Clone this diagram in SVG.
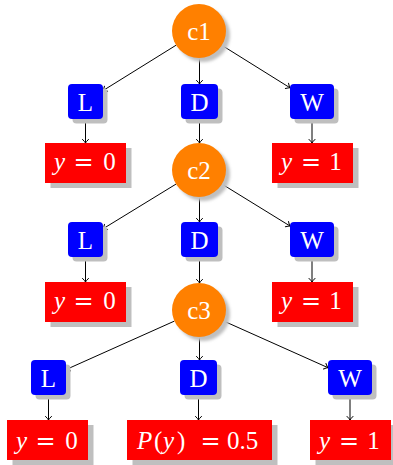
<svg xmlns="http://www.w3.org/2000/svg" width="393" height="465" viewBox="0 0 393 465">
<style>
.sh{fill:#bfbfbf}
.circ{fill:#ff8000}
.blue{fill:#0000ff}
.red{fill:#ff0000}
text{font-family:"Liberation Serif","Times New Roman",serif;font-size:25px;fill:#ffffff}
.c{text-anchor:middle}
.i{font-style:italic}
.eq{font-family:"DejaVu Serif",serif;font-size:24px;text-anchor:middle}
.e{stroke:#000;stroke-width:1;fill:none;marker-end:url(#ah)}
</style>
<defs>
<filter id="blur" x="-30%" y="-30%" width="160%" height="160%"><feGaussianBlur stdDeviation="1.6"/></filter>
<marker id="ah" markerUnits="userSpaceOnUse" markerWidth="10" markerHeight="10" viewBox="-5 -5 10 10" refX="0" refY="0" orient="auto">
<path d="M-3.6,-3 Q-1.2,-0.6 0,0 Q-1.2,0.6 -3.6,3" fill="none" stroke="#000" stroke-width="1" stroke-linecap="round"/>
</marker>
</defs>
<g id="connectors">
<line class="e" x1="176.1" y1="45.2" x2="103" y2="90.6"/>
<line class="e" x1="199.5" y1="58" x2="199.5" y2="84"/>
<line class="e" x1="221.9" y1="45.3" x2="290" y2="87.8"/>
<line class="e" x1="85.5" y1="119" x2="85.5" y2="143"/>
<line class="e" x1="199.5" y1="120" x2="199.5" y2="143"/>
<line class="e" x1="312" y1="119" x2="312" y2="143"/>
<line class="e" x1="176" y1="184.1" x2="103" y2="228.8"/>
<line class="e" x1="199.5" y1="197" x2="199.5" y2="222"/>
<line class="e" x1="222" y1="184.1" x2="290" y2="226"/>
<line class="e" x1="85.5" y1="257" x2="85.5" y2="282"/>
<line class="e" x1="199.5" y1="257" x2="199.5" y2="283"/>
<line class="e" x1="312" y1="257" x2="312" y2="282"/>
<line class="e" x1="174.4" y1="321.1" x2="66" y2="369.6"/>
<line class="e" x1="199.5" y1="337" x2="199.5" y2="360"/>
<line class="e" x1="223.6" y1="321" x2="328" y2="367.7"/>
<line class="e" x1="48.5" y1="395" x2="48.5" y2="420"/>
<line class="e" x1="198.5" y1="395" x2="198.5" y2="420"/>
<line class="e" x1="350" y1="395" x2="350" y2="420"/>
</g>
<g id="c1">
<circle class="sh" cx="203" cy="35" r="27" filter="url(#blur)"/>
<circle class="circ" cx="199" cy="31" r="27"/>
<text class="c" x="199" y="40">c1</text>
</g>
<g id="L1">
<rect class="sh" x="72.5" y="88.5" width="35" height="35" rx="4"/>
<rect class="blue" x="68" y="84" width="35" height="35" rx="4"/>
<text class="c" x="85.5" y="110.5">L</text>
</g>
<g id="D1">
<rect class="sh" x="185.5" y="88.5" width="37" height="35" rx="4"/>
<rect class="blue" x="181" y="84" width="37" height="35" rx="4"/>
<text class="c" x="199.5" y="110.5">D</text>
</g>
<g id="W1">
<rect class="sh" x="294.5" y="88.5" width="44" height="35" rx="4"/>
<rect class="blue" x="290" y="84" width="44" height="35" rx="4"/>
<text class="c" x="312" y="110.5">W</text>
</g>
<g id="yL1">
<rect class="sh" x="50.5" y="148" width="81" height="40"/>
<rect class="red" x="45" y="143" width="81" height="40"/>
<text y="170"><tspan class="i" x="54">y</tspan><tspan class="eq" x="83.5">=</tspan><tspan class="c" x="109.5">0</tspan></text>
</g>
<g id="yW1">
<rect class="sh" x="277.5" y="148" width="81" height="40"/>
<rect class="red" x="272" y="143" width="81" height="40"/>
<text y="170"><tspan class="i" x="281">y</tspan><tspan class="eq" x="311">=</tspan><tspan class="c" x="335.5">1</tspan></text>
</g>
<g id="c2">
<circle class="sh" cx="203" cy="174" r="27" filter="url(#blur)"/>
<circle class="circ" cx="199" cy="170" r="27"/>
<text class="c" x="199" y="179">c2</text>
</g>
<g id="L2">
<rect class="sh" x="72.5" y="226.5" width="35" height="35" rx="4"/>
<rect class="blue" x="68" y="222" width="35" height="35" rx="4"/>
<text class="c" x="85.5" y="248.5">L</text>
</g>
<g id="D2">
<rect class="sh" x="185.5" y="226.5" width="37" height="35" rx="4"/>
<rect class="blue" x="181" y="222" width="37" height="35" rx="4"/>
<text class="c" x="199.5" y="248.5">D</text>
</g>
<g id="W2">
<rect class="sh" x="294.5" y="226.5" width="44" height="35" rx="4"/>
<rect class="blue" x="290" y="222" width="44" height="35" rx="4"/>
<text class="c" x="312" y="248.5">W</text>
</g>
<g id="yL2">
<rect class="sh" x="50.5" y="287" width="81" height="40"/>
<rect class="red" x="45" y="282" width="81" height="40"/>
<text y="309"><tspan class="i" x="54">y</tspan><tspan class="eq" x="83.5">=</tspan><tspan class="c" x="109.5">0</tspan></text>
</g>
<g id="yW2">
<rect class="sh" x="277.5" y="287" width="81" height="40"/>
<rect class="red" x="272" y="282" width="81" height="40"/>
<text y="309"><tspan class="i" x="281">y</tspan><tspan class="eq" x="311">=</tspan><tspan class="c" x="335.5">1</tspan></text>
</g>
<g id="c3">
<circle class="sh" cx="203" cy="314" r="27" filter="url(#blur)"/>
<circle class="circ" cx="199" cy="310" r="27"/>
<text class="c" x="199" y="319">c3</text>
</g>
<g id="L3">
<rect class="sh" x="35.5" y="364.5" width="35" height="35" rx="4"/>
<rect class="blue" x="31" y="360" width="35" height="35" rx="4"/>
<text class="c" x="48.5" y="386.5">L</text>
</g>
<g id="D3">
<rect class="sh" x="184.5" y="364.5" width="37" height="35" rx="4"/>
<rect class="blue" x="180" y="360" width="37" height="35" rx="4"/>
<text class="c" x="198.5" y="386.5">D</text>
</g>
<g id="W3">
<rect class="sh" x="332.5" y="364.5" width="44" height="35" rx="4"/>
<rect class="blue" x="328" y="360" width="44" height="35" rx="4"/>
<text class="c" x="350" y="386.5">W</text>
</g>
<g id="yL3">
<rect class="sh" x="12.5" y="425" width="81" height="40"/>
<rect class="red" x="7" y="420" width="81" height="40"/>
<text y="448.5"><tspan class="i" x="16">y</tspan><tspan class="eq" x="45.5">=</tspan><tspan class="c" x="71.5">0</tspan></text>
</g>
<g id="PD3">
<rect class="sh" x="132.5" y="425" width="145" height="40"/>
<rect class="red" x="127" y="420" width="145" height="40"/>
<text y="448.5"><tspan class="i" x="137">P</tspan><tspan x="154">(</tspan><tspan class="i" x="163">y</tspan><tspan x="177">)</tspan><tspan class="eq" x="210.5">=</tspan><tspan x="227">0.5</tspan></text>
</g>
<g id="yW3">
<rect class="sh" x="315.5" y="425" width="81" height="40"/>
<rect class="red" x="310" y="420" width="81" height="40"/>
<text y="448.5"><tspan class="i" x="319">y</tspan><tspan class="eq" x="349">=</tspan><tspan class="c" x="373.5">1</tspan></text>
</g>
</svg>
